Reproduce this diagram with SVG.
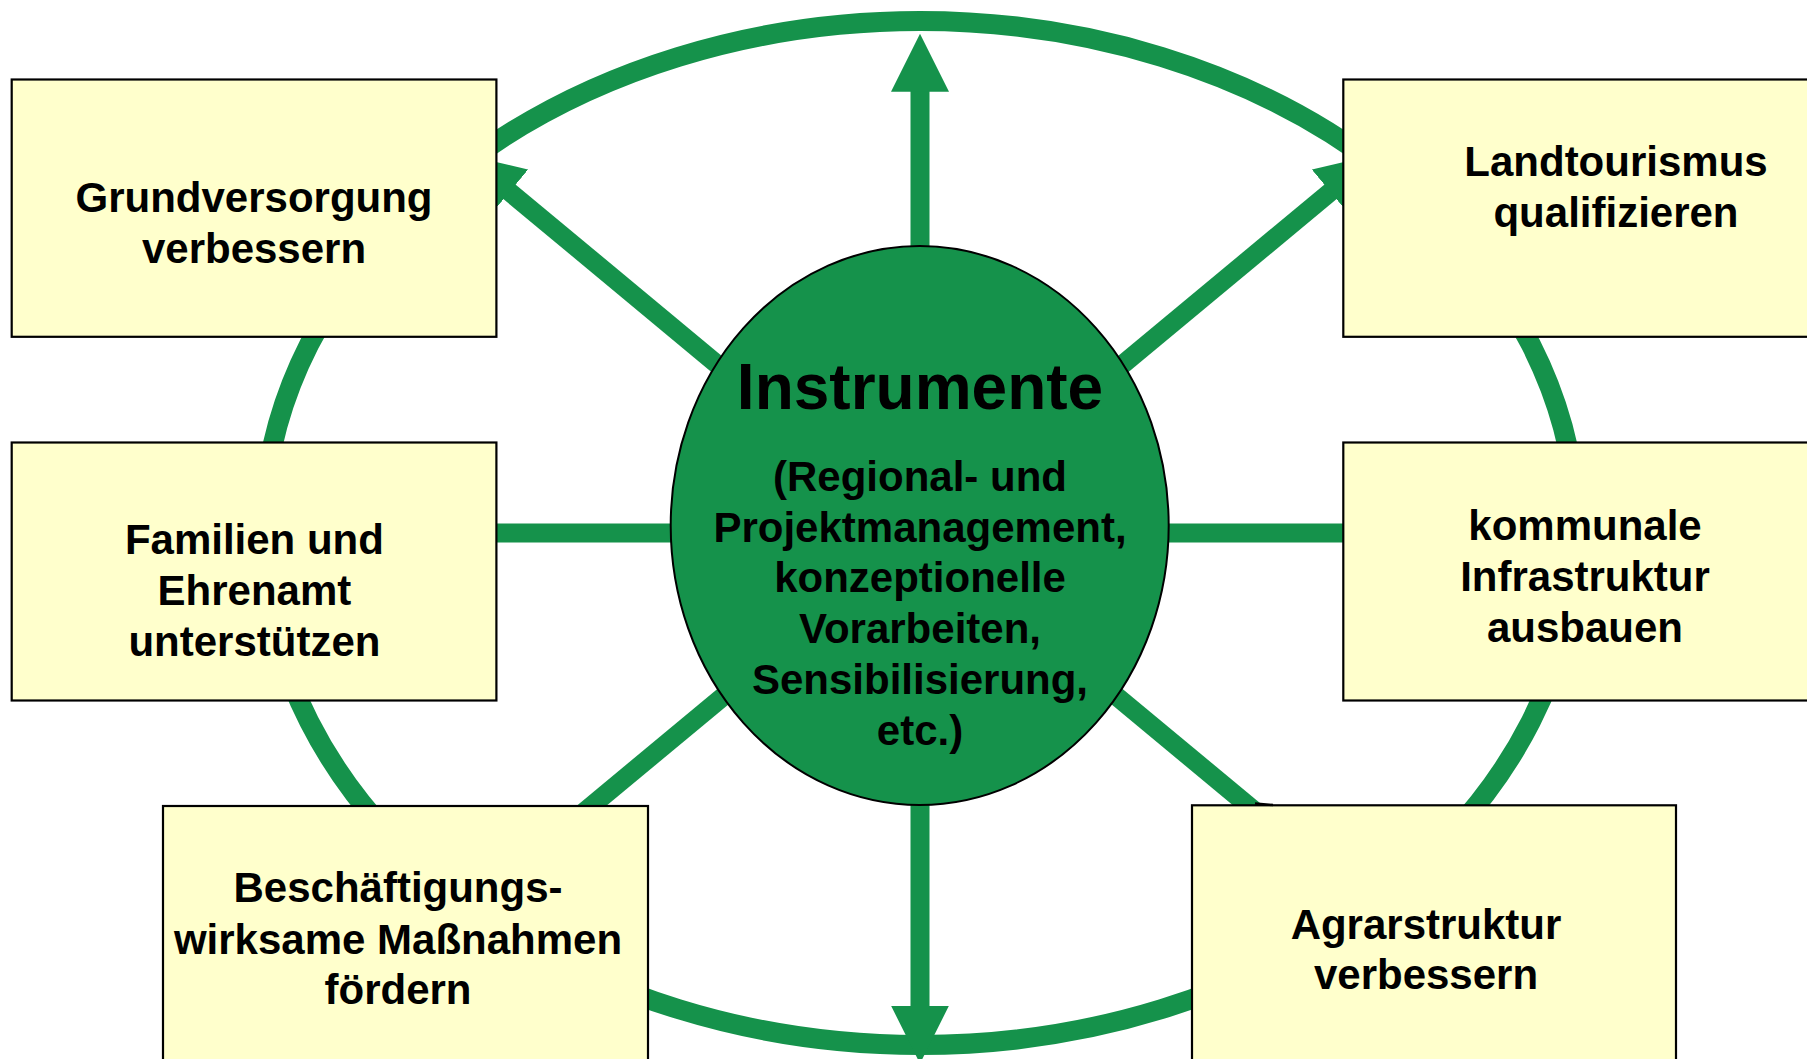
<svg xmlns="http://www.w3.org/2000/svg" width="1807" height="1059" viewBox="0 0 1807 1059">
<style>
  .ring { fill: none; stroke: #15924b; stroke-width: 20; }
  .spoke { fill: none; stroke: #15924b; stroke-width: 19; }
  .box { fill: #ffffcc; stroke: #000; stroke-width: 2.2; }
  .hub { fill: #15924b; stroke: #000; stroke-width: 2; }
  text { font-family: "Liberation Sans", Arial, Helvetica, sans-serif; font-weight: bold; fill: #000; text-anchor: middle; }
  .t { font-size: 42px; }
  .title { font-size: 64px; }
</style>
<defs>
  <marker id="head" markerUnits="userSpaceOnUse" markerWidth="58" markerHeight="58" viewBox="0 0 56 56" refX="1" refY="28" orient="auto">
    <path d="M0,0 L56,28 L0,56 Z" fill="#15924b"/>
  </marker>
</defs>
<rect width="1807" height="1059" fill="#fff"/>
<g id="connectors">
  <ellipse class="ring" cx="920" cy="533" rx="657" ry="512"/>
  <line class="spoke" x1="920" y1="533" x2="920" y2="90.7" marker-end="url(#head)"/>
  <line class="spoke" x1="920" y1="533" x2="920" y2="1006.7" marker-end="url(#head)"/>
  <line class="spoke" x1="920" y1="533" x2="508.8" y2="191.2" marker-end="url(#head)"/>
  <line class="spoke" x1="920" y1="533" x2="1331.2" y2="191.2" marker-end="url(#head)"/>
  <line class="spoke" x1="920" y1="533" x2="560" y2="832"/>
  <line class="spoke" x1="920" y1="533" x2="1280" y2="832"/>
  <line class="spoke" x1="920" y1="533" x2="480" y2="533"/>
  <line class="spoke" x1="920" y1="533" x2="1360" y2="533"/>
</g>
<g id="hub">
  <ellipse class="hub" cx="919.7" cy="525.5" rx="249" ry="279.5"/>
  <text class="title" x="920" y="409">Instrumente</text>
  <text class="t" x="920" y="491">(Regional- und</text>
  <text class="t" x="920" y="542">Projektmanagement,</text>
  <text class="t" x="920" y="592">konzeptionelle</text>
  <text class="t" x="920" y="643">Vorarbeiten,</text>
  <text class="t" x="920" y="694">Sensibilisierung,</text>
  <text class="t" x="920" y="745">etc.)</text>
</g>
<g id="node-grundversorgung">
  <rect class="box" x="11.7" y="79.5" width="484.7" height="257.3"/>
  <text class="t" x="254" y="212">Grundversorgung</text>
  <text class="t" x="254" y="263">verbessern</text>
</g>
<g id="node-familien">
  <rect class="box" x="11.7" y="442.5" width="484.7" height="258"/>
  <text class="t" x="254.4" y="554">Familien und</text>
  <text class="t" x="254.4" y="605">Ehrenamt</text>
  <text class="t" x="254.4" y="656">unterstützen</text>
</g>
<g id="node-beschaeftigung">
  <rect class="box" x="163" y="806" width="485" height="258"/>
  <text class="t" x="398" y="902">Beschäftigungs-</text>
  <text class="t" x="398" y="954">wirksame Maßnahmen</text>
  <text class="t" x="398" y="1004">fördern</text>
</g>
<g id="node-landtourismus">
  <rect class="box" x="1343.3" y="79.5" width="484.7" height="257.3"/>
  <text class="t" x="1616" y="176">Landtourismus</text>
  <text class="t" x="1616" y="227">qualifizieren</text>
</g>
<g id="node-infrastruktur">
  <rect class="box" x="1343.3" y="442.5" width="484.7" height="258"/>
  <text class="t" x="1585" y="540">kommunale</text>
  <text class="t" x="1585" y="591">Infrastruktur</text>
  <text class="t" x="1585" y="642">ausbauen</text>
</g>
<g id="node-agrarstruktur">
  <rect class="box" x="1192" y="805.3" width="484" height="258"/>
  <path d="M1255,803.6 L1273,805" fill="none" stroke="#000" stroke-width="2.5"/>
  <text class="t" x="1426" y="939">Agrarstruktur</text>
  <text class="t" x="1426" y="989">verbessern</text>
</g>
</svg>
